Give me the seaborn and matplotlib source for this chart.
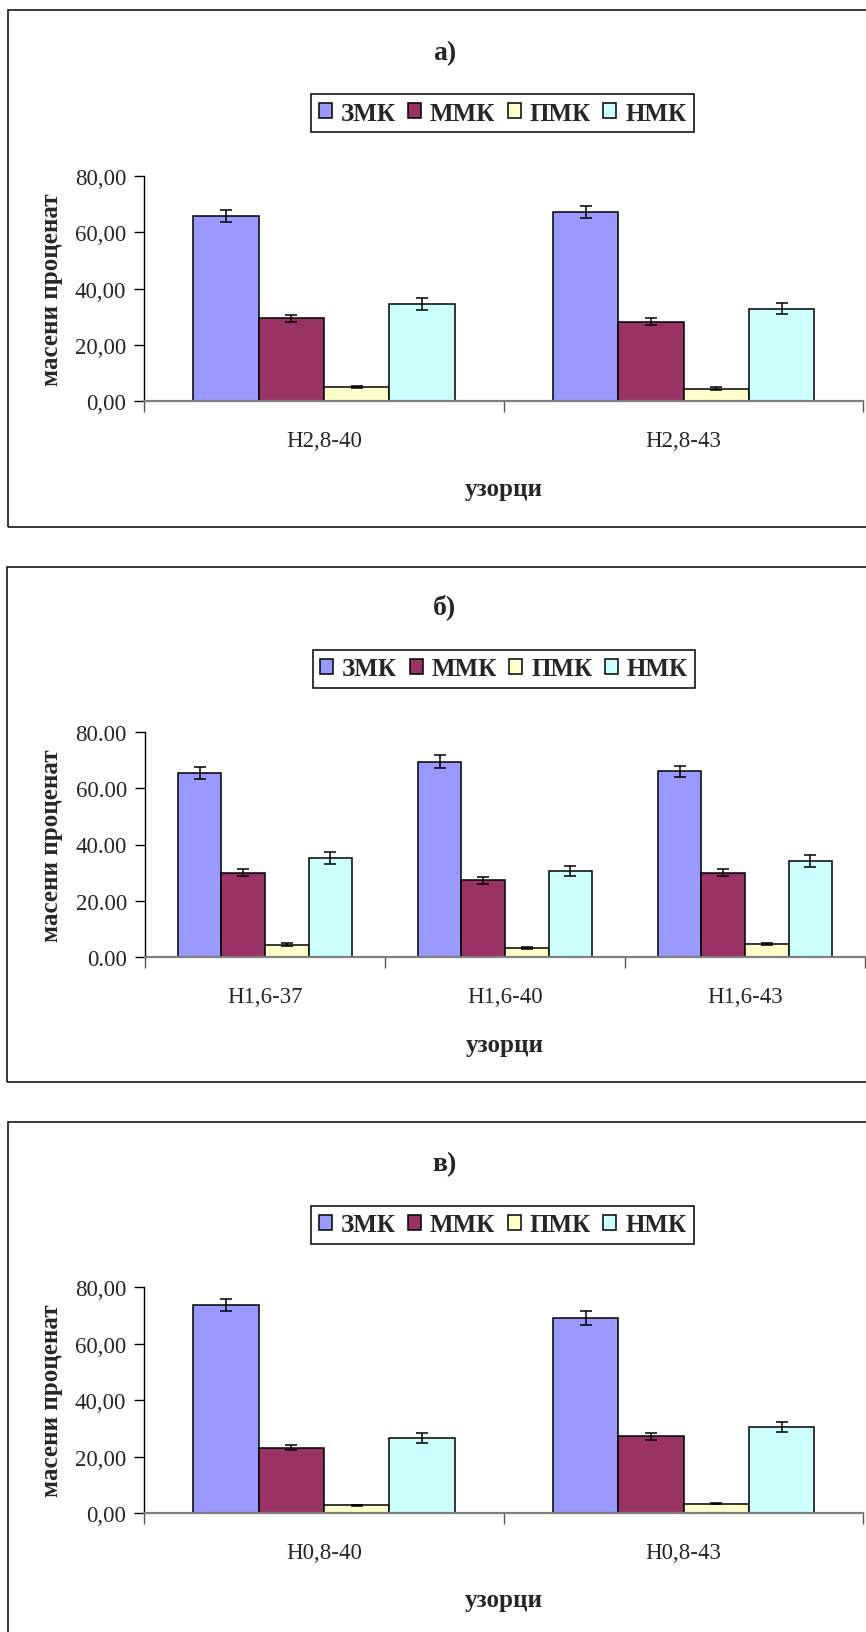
import numpy as np
import pandas as pd
import matplotlib
matplotlib.use("Agg")
import matplotlib.pyplot as plt
from matplotlib.patches import Patch, Rectangle
from matplotlib.ticker import FuncFormatter, FixedLocator
import seaborn as sns

# ---- data -------------------------------------------------------------
acids = ["ЗМК", "ММК", "ПМК", "НМК"]
acid_colors = ["#9999FF", "#993366", "#FFFFCC", "#CCFFFF"]

samples_a = ["H2,8-40", "H2,8-43"]
zmk_a = [65.7, 67.0]
mmk_a = [29.4, 28.2]
pmk_a = [5.0, 4.5]
nmk_a = [34.5, 32.9]
zmk_a_err = [2.0, 2.1]
mmk_a_err = [1.2, 1.2]
pmk_a_err = [0.4, 0.4]
nmk_a_err = [2.1, 2.1]

samples_b = ["H1,6-37", "H1,6-40", "H1,6-43"]
zmk_b = [65.3, 69.4, 65.9]
mmk_b = [30.0, 27.3, 30.0]
pmk_b = [4.5, 3.3, 4.6]
nmk_b = [35.2, 30.7, 34.2]
zmk_b_err = [2.1, 2.3, 2.1]
mmk_b_err = [1.2, 1.2, 1.2]
pmk_b_err = [0.4, 0.2, 0.3]
nmk_b_err = [2.1, 1.8, 2.1]

samples_c = ["H0,8-40", "H0,8-43"]
zmk_c = [73.7, 69.2]
mmk_c = [23.2, 27.2]
pmk_c = [2.8, 3.3]
nmk_c = [26.6, 30.6]
zmk_c_err = [2.1, 2.4]
mmk_c_err = [0.8, 1.2]
pmk_c_err = [0.2, 0.2]
nmk_c_err = [1.8, 1.8]

y_ticks = [0, 20, 40, 60, 80]
panel_titles = ["а)", "б)", "в)"]
y_label = "масени проценат"
x_label = "узорци"

# ---- style ------------------------------------------------------------
sns.set_style("white")
plt.rcParams["font.family"] = ["Liberation Serif", "DejaVu Serif"]
plt.rcParams["axes.linewidth"] = 1.0

TICK_FS = 16.5
BOLD_FS = 18
TITLE_FS = 20

W, H = 866, 1633
fig = plt.figure(figsize=(W / 100, H / 100), dpi=100)
fig.patch.set_facecolor("white")


def fx(x):
    return x / W


def fy(y):
    return 1 - y / H


def draw_panel(idx, frame, title_xy, legend_xy, plot_box, samples, values,
               errors, decimal_sep):
    # outer chart frame
    x0, y0, x1, y1 = frame
    fig.add_artist(Rectangle((fx(x0), fy(y1)), fx(x1 - x0), (y1 - y0) / H,
                             transform=fig.transFigure, fill=False,
                             edgecolor="black", linewidth=1.1))
    fig.text(fx(title_xy[0]), fy(title_xy[1]), panel_titles[idx],
             ha="center", va="center", fontsize=TITLE_FS, fontweight="bold")

    left, top, right, bottom = plot_box
    ax = fig.add_axes([fx(left), fy(bottom), fx(right - left), (bottom - top) / H])

    df = pd.DataFrame({
        "sample": np.tile(samples, len(acids)),
        "acid": np.repeat(acids, len(samples)),
        "value": np.concatenate(values),
    })
    sns.barplot(data=df, x="sample", y="value", hue="acid", order=samples,
                hue_order=acids, palette=acid_colors, width=0.727,
                edgecolor="black", linewidth=1.1, errorbar=None, legend=False,
                saturation=1, ax=ax)

    # error bars on top of each bar
    for cont, vals, errs in zip(ax.containers, values, errors):
        xs = [p.get_x() + p.get_width() / 2 for p in cont.patches]
        ax.errorbar(xs, vals, yerr=errs, fmt="none", ecolor="black",
                    elinewidth=1.1, capsize=4, capthick=1.1, zorder=5)

    n = len(samples)
    ax.set_xlim(-0.5, n - 0.5)
    ax.set_ylim(0, 80)
    ax.set_yticks(y_ticks)
    ax.yaxis.set_major_formatter(
        FuncFormatter(lambda v, _: f"{v:.2f}".replace(".", decimal_sep)))
    ax.tick_params(axis="y", direction="out", length=7, width=1.0,
                   color="black", pad=6, labelsize=TICK_FS, left=True)
    ax.xaxis.set_minor_locator(FixedLocator(np.arange(-0.5, n, 1.0)))
    ax.tick_params(axis="x", which="major", length=0, pad=21, labelsize=TICK_FS)
    ax.tick_params(axis="x", which="minor", direction="out", length=8,
                   width=1.0, color="#555555", bottom=True)

    for s in ("top", "right"):
        ax.spines[s].set_visible(False)
    ax.spines["left"].set_color("black")
    ax.spines["left"].set_linewidth(1.0)
    ax.spines["bottom"].set_color("#808080")
    ax.spines["bottom"].set_linewidth(1.6)

    ax.set_ylabel(y_label, fontsize=BOLD_FS, fontweight="bold")
    ax.yaxis.label.set_va("center")
    ax.yaxis.set_label_coords(-(left - 52) / (right - left), 0.5)
    ax.set_xlabel(x_label, fontsize=BOLD_FS, fontweight="bold")
    ax.xaxis.label.set_va("center")
    ax.xaxis.set_label_coords(0.5, -87 / (bottom - top))

    handles = [Patch(facecolor=c, edgecolor="black", linewidth=1.1)
               for c in acid_colors]
    leg = ax.legend(handles, acids, loc="center",
                    bbox_to_anchor=(fx(legend_xy[0]), fy(legend_xy[1])),
                    bbox_transform=fig.transFigure, ncol=4, frameon=True,
                    fancybox=False, framealpha=1, edgecolor="black",
                    prop={"size": BOLD_FS, "weight": "bold"},
                    handlelength=0.52, handleheight=0.56, handletextpad=0.36,
                    columnspacing=0.5, borderpad=0.3, borderaxespad=0)
    leg.get_frame().set_linewidth(1.1)
    return ax


draw_panel(0, frame=(8.3, 11, 882, 527.5), title_xy=(444.7, 53.4),
           legend_xy=(502.5, 114.2), plot_box=(144.3, 176.7, 863.3, 402.3),
           samples=samples_a,
           values=[zmk_a, mmk_a, pmk_a, nmk_a],
           errors=[zmk_a_err, mmk_a_err, pmk_a_err, nmk_a_err],
           decimal_sep=",")

draw_panel(1, frame=(6.8, 567.7, 882, 1083), title_xy=(444.5, 607),
           legend_xy=(504, 669.5), plot_box=(145, 732.7, 865, 958.3),
           samples=samples_b,
           values=[zmk_b, mmk_b, pmk_b, nmk_b],
           errors=[zmk_b_err, mmk_b_err, pmk_b_err, nmk_b_err],
           decimal_sep=".")

draw_panel(2, frame=(8.3, 1123.3, 882, 1641), title_xy=(444.7, 1164.6),
           legend_xy=(502.5, 1226), plot_box=(144.3, 1288.3, 863.3, 1514),
           samples=samples_c,
           values=[zmk_c, mmk_c, pmk_c, nmk_c],
           errors=[zmk_c_err, mmk_c_err, pmk_c_err, nmk_c_err],
           decimal_sep=",")

fig.savefig("out.png", dpi=100, facecolor="white")
